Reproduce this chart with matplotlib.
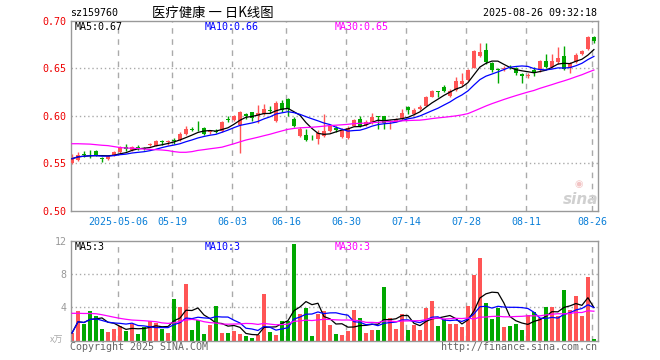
import matplotlib
matplotlib.use('Agg')
import matplotlib.pyplot as plt
import numpy as np
import pandas as pd

plt.rcParams['font.family'] = ['DejaVu Sans Mono', 'Noto Sans CJK SC']

# daily candles, 2025-04-21 .. 2025-08-26 (88 trading days)
opens = [0.551, 0.5535, 0.5595, 0.5600, 0.5635, 0.5555, 0.555, 0.558, 0.562, 0.567,
         0.5645, 0.567, 0.566, 0.5695, 0.5685, 0.573, 0.5725, 0.574, 0.575, 0.581,
         0.586, 0.5875, 0.5875, 0.583, 0.5845, 0.5845, 0.5965, 0.5955, 0.591, 0.6025,
         0.604, 0.600, 0.6025, 0.6055, 0.595, 0.6135, 0.618, 0.597, 0.579, 0.5805,
         0.576, 0.5755, 0.579, 0.5845, 0.5877, 0.578, 0.577, 0.590, 0.597, 0.591,
         0.5935, 0.5995, 0.5995, 0.5935, 0.594, 0.5965, 0.610, 0.602, 0.6075, 0.611,
         0.6205, 0.6265, 0.631, 0.621, 0.6275, 0.6338, 0.638, 0.6505, 0.6636, 0.669,
         0.6558, 0.6488, 0.649, 0.652, 0.6505, 0.644, 0.6425, 0.6485, 0.648, 0.6575,
         0.652, 0.6565, 0.663, 0.6505, 0.657, 0.6655, 0.670, 0.683]
highs = [0.560, 0.5625, 0.5635, 0.5645, 0.5645, 0.557, 0.559, 0.563, 0.568, 0.571,
         0.568, 0.569, 0.567, 0.572, 0.5745, 0.575, 0.575, 0.577, 0.583, 0.5895,
         0.588, 0.595, 0.588, 0.585, 0.586, 0.595, 0.600, 0.601, 0.6055, 0.603,
         0.6045, 0.612, 0.613, 0.611, 0.6155, 0.617, 0.619, 0.599, 0.588, 0.5865,
         0.580, 0.585, 0.602, 0.591, 0.589, 0.587, 0.589, 0.597, 0.600, 0.596,
         0.603, 0.600, 0.600, 0.596, 0.598, 0.607, 0.6105, 0.608, 0.6115, 0.6215,
         0.6275, 0.6268, 0.6325, 0.628, 0.641, 0.645, 0.649, 0.669, 0.677, 0.677,
         0.657, 0.650, 0.653, 0.6535, 0.652, 0.6455, 0.6455, 0.6513, 0.659, 0.665,
         0.665, 0.673, 0.674, 0.657, 0.666, 0.669, 0.684, 0.684]
lows = [0.549, 0.5525, 0.5565, 0.556, 0.558, 0.552, 0.554, 0.5575, 0.561, 0.563,
        0.563, 0.564, 0.564, 0.568, 0.568, 0.569, 0.570, 0.571, 0.574, 0.580,
        0.584, 0.584, 0.580, 0.581, 0.582, 0.5835, 0.594, 0.595, 0.561, 0.5965,
        0.5945, 0.593, 0.601, 0.6035, 0.594, 0.6045, 0.5995, 0.588, 0.578, 0.574,
        0.575, 0.571, 0.578, 0.583, 0.583, 0.577, 0.576, 0.589, 0.588, 0.589,
        0.592, 0.5865, 0.5865, 0.586, 0.5935, 0.596, 0.6025, 0.601, 0.606, 0.6105,
        0.6195, 0.620, 0.625, 0.6195, 0.626, 0.632, 0.637, 0.650, 0.662, 0.655,
        0.6465, 0.635, 0.6475, 0.649, 0.643, 0.635, 0.6395, 0.642, 0.6465, 0.650,
        0.650, 0.655, 0.6485, 0.645, 0.6555, 0.6645, 0.669, 0.677]
closes = [0.555, 0.559, 0.559, 0.5595, 0.559, 0.555, 0.558, 0.562, 0.567, 0.565,
          0.567, 0.566, 0.5655, 0.5705, 0.574, 0.5725, 0.573, 0.5735, 0.581, 0.5865,
          0.5855, 0.587, 0.581, 0.5835, 0.5835, 0.594, 0.596, 0.5995, 0.6045, 0.5995,
          0.598, 0.6035, 0.6075, 0.605, 0.6135, 0.6065, 0.6075, 0.590, 0.5865, 0.575,
          0.5755, 0.582, 0.5845, 0.589, 0.5855, 0.5855, 0.5875, 0.596, 0.590, 0.5935,
          0.5993, 0.599, 0.593, 0.594, 0.5965, 0.6035, 0.606, 0.6065, 0.6095, 0.6205,
          0.6265, 0.6255, 0.6265, 0.6265, 0.637, 0.637, 0.6485, 0.668, 0.6672, 0.6565,
          0.6488, 0.6483, 0.651, 0.651, 0.645, 0.6425, 0.6435, 0.6455, 0.6575, 0.652,
          0.6575, 0.661, 0.6495, 0.6556, 0.6645, 0.668, 0.683, 0.6785]
volumes = [0.9, 3.6, 2.0, 3.6, 2.95, 1.41, 1.0, 1.41, 1.7, 1.17,
           2.0, 0.77, 1.58, 2.38, 2.12, 1.41, 0.92, 5.0, 4.06, 6.8,
           1.25, 2.46, 0.77, 1.9, 4.16, 0.92, 0.88, 1.17, 0.77, 0.5,
           0.28, 0.7, 5.6, 0.98, 0.65, 2.35, 2.35, 11.6, 3.2, 3.9,
           0.5, 3.2, 3.6, 1.85, 0.77, 0.65, 1.15, 3.7, 2.7, 0.9,
           1.25, 1.25, 6.46, 2.7, 1.4, 3.2, 1.25, 1.82, 1.25, 3.9,
           4.78, 1.74, 2.6, 2.0, 2.0, 1.6, 4.16, 7.93, 9.86, 4.5,
           2.6, 3.9, 1.65, 1.73, 1.98, 1.25, 3.08, 3.45, 2.75, 4.0,
           4.06, 2.97, 6.1, 3.68, 5.4, 2.97, 7.58, 0.18]

# MA30 for the first 29 days (window starts before the chart)
ma30_head = [0.5708, 0.5708, 0.5706, 0.5704, 0.5698, 0.5692, 0.5688, 0.5678, 0.5668, 0.5663,
             0.5661, 0.5658, 0.5652, 0.5648, 0.5645, 0.5642, 0.5636, 0.5625, 0.5618, 0.5618,
             0.5625, 0.5638, 0.5646, 0.5655, 0.5663, 0.5672, 0.5690, 0.5708, 0.5728]
vol_ma30_head = [3.27, 3.27, 3.25, 3.25, 3.22, 3.1, 2.95, 2.8, 2.66, 2.55,
                 2.46, 2.42, 2.38, 2.32, 2.26, 2.12, 2.06, 2.12, 2.3, 2.46,
                 2.54, 2.45, 2.26, 2.15, 2.1, 1.98, 1.96, 1.98, 2.0]

tick_pos = [8, 17, 27, 36, 46, 56, 66, 76, 87]
tick_labels = ['2025-05-06', '05-19', '06-03', '06-16', '06-30',
               '07-14', '07-28', '08-11', '08-26']
price_ticks = [0.50, 0.55, 0.60, 0.65, 0.70]
vol_ticks = [4, 8, 12]

RED = '#ff5555'
GREEN = '#00a800'
GRID = '#aaaaaa'
FRAME = '#999999'

df = pd.DataFrame({'open': opens, 'high': highs, 'low': lows,
                   'close': closes, 'vol': volumes})
n = len(df)
x = np.arange(n)

ma5 = df['close'].rolling(5, min_periods=1).mean()
ma10 = df['close'].rolling(10, min_periods=1).mean()
ma30 = df['close'].rolling(30).mean()
ma30.iloc[:len(ma30_head)] = ma30_head
vma5 = df['vol'].rolling(5, min_periods=1).mean()
vma10 = df['vol'].rolling(10, min_periods=1).mean()
vma30 = df['vol'].rolling(30).mean()
vma30.iloc[:len(vol_ma30_head)] = vol_ma30_head

colors = np.where(df['close'] >= df['open'], RED, GREEN)

W, H = 660, 360
fig = plt.figure(figsize=(W / 100, H / 100), dpi=100)
fig.patch.set_facecolor('white')
ax = fig.add_axes([70.5 / W, 1 - 211 / H, 527 / W, 190 / H])
axv = fig.add_axes([70.5 / W, 1 - 340.5 / H, 527 / W, 99.8 / H])

xlim = (-0.25, 87.6)
for a in (ax, axv):
    a.set_xlim(*xlim)
    for s in a.spines.values():
        s.set_color(FRAME)
        s.set_linewidth(1)
    for t in tick_pos:
        a.axvline(t - 0.25, color=GRID, lw=1, ls=(0, (4, 4)), zorder=0)
    a.tick_params(length=0)

# price panel
ax.set_ylim(0.50, 0.70)
for lv in price_ticks[1:-1]:
    ax.axhline(lv, color=GRID, lw=1, ls=(0, (1, 2)), zorder=0)
ax.vlines(x, df['low'], df['high'], colors=colors, lw=1, zorder=2)
bottom = np.minimum(df['open'], df['close'])
height = np.maximum((df['close'] - df['open']).abs(), 0.0008)
ax.bar(x, height, bottom=bottom, width=0.7, color=colors, lw=0, zorder=3)
ax.plot(x, ma5, color='black', lw=0.9, zorder=4)
ax.plot(x, ma10, color='#0000ff', lw=0.9, zorder=4)
ax.plot(x, ma30, color='#ff00ff', lw=0.9, zorder=4)

ax.set_yticks(price_ticks)
ax.set_yticklabels(['%.2f' % v for v in price_ticks], color='#ee0000', fontsize=7.2)
ax.tick_params(axis='y', pad=3)
ax.set_xticks([t - 0.25 for t in tick_pos])
ax.set_xticklabels(tick_labels, color='#0a7fd8', fontsize=7.2)
ax.tick_params(axis='x', pad=4)

# volume panel
axv.set_ylim(0, 12)
for lv in vol_ticks[:-1]:
    axv.axhline(lv, color=GRID, lw=1, ls=(0, (1, 2)), zorder=0)
axv.bar(x, df['vol'], width=0.75, color=colors, lw=0, zorder=2)
axv.plot(x, vma5, color='black', lw=0.9, zorder=3)
axv.plot(x, vma10, color='#0000ff', lw=0.9, zorder=3)
axv.plot(x, vma30, color='#ff00ff', lw=0.9, zorder=3)
axv.set_yticks(vol_ticks)
axv.set_yticklabels([str(v) for v in vol_ticks], color='#999999', fontsize=7.2)
axv.tick_params(axis='y', pad=3)
axv.set_xticks([])


def ftext(px, py, s, **kw):
    fig.text(px / W, 1 - py / H, s, **kw)


ftext(70, 13, 'sz159760', fontsize=7.2, va='center', ha='left', color='black')
ftext(213, 12.5, '医疗健康 一 日K线图', fontsize=9.6, va='center', ha='center',
      family=['Noto Sans CJK SC', 'DejaVu Sans'])
ftext(597, 13, '2025-08-26 09:32:18', fontsize=7.2, va='center', ha='right')

ftext(75, 26.5, 'MA5:0.67', fontsize=7.2, va='center', color='black')
ftext(205, 26.5, 'MA10:0.66', fontsize=7.2, va='center', color='#0000ff')
ftext(335, 26.5, 'MA30:0.65', fontsize=7.2, va='center', color='#ff00ff')
ftext(75, 246.5, 'MA5:3', fontsize=7.2, va='center', color='black')
ftext(205, 246.5, 'MA10:3', fontsize=7.2, va='center', color='#0000ff')
ftext(335, 246.5, 'MA30:3', fontsize=7.2, va='center', color='#ff00ff')

ftext(57, 340, 'x万', fontsize=6.5, va='center', ha='center', color='#aaaaaa',
      family=['Noto Sans CJK SC', 'DejaVu Sans'], style='italic')
ftext(70, 347, 'Copyright 2025 SINA.COM', fontsize=7.2, va='center', color='#666666')
ftext(597, 347, 'http://finance.sina.com.cn', fontsize=7.2, va='center', ha='right',
      color='#666666')

# sina watermark
ftext(581, 200, 'sina', fontsize=11, va='center', ha='center', color='#d0d0d0',
      family='DejaVu Sans', weight='bold', style='italic')
ftext(579, 184, '◉', fontsize=7, va='center', ha='center', color='#f2c4c4',
      family='DejaVu Sans')

fig.savefig('out.png', dpi=100, facecolor='white')
